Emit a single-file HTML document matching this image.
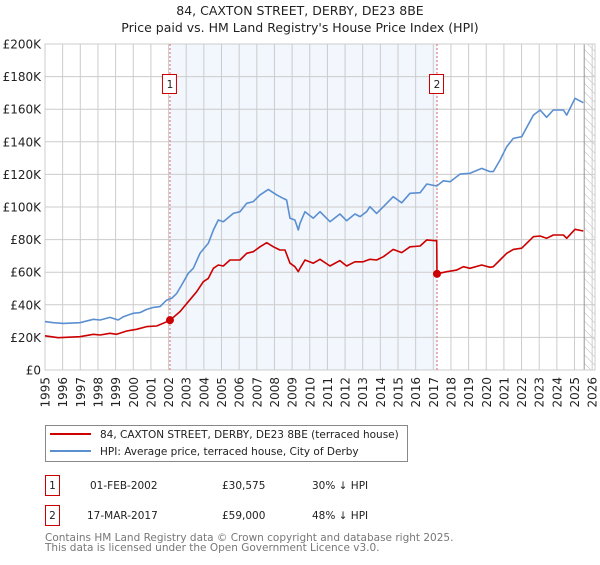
<!DOCTYPE html>
<html><head><meta charset="utf-8"><style>
body{margin:0;background:#fff;width:600px;height:560px;overflow:hidden;font-family:"Liberation Sans","DejaVu Sans",sans-serif}
svg text{font-family:"DejaVu Sans","Liberation Sans",sans-serif}
</style></head><body>
<svg id="c" width="600" height="560" xmlns="http://www.w3.org/2000/svg">
<defs><pattern id="hatch" width="6" height="6" patternUnits="userSpaceOnUse" patternTransform="rotate(-45)"><line x1="0" y1="0" x2="0" y2="6" stroke="#bbb" stroke-width="1"/></pattern></defs>
<text x="300" y="15" text-anchor="middle" font-size="12.5" fill="#222">84, CAXTON STREET, DERBY, DE23 8BE</text>
<text x="300" y="32" text-anchor="middle" font-size="12.5" fill="#222">Price paid vs. HM Land Registry's House Price Index (HPI)</text>
<g id="plot"></g>
<g>
<rect x="45.5" y="425.5" width="362" height="36" fill="#fff" stroke="#888"/>
<line x1="50" y1="434" x2="91" y2="434" stroke="#cc0000" stroke-width="2"/>
<text x="100" y="438" font-size="10.5" fill="#222">84, CAXTON STREET, DERBY, DE23 8BE (terraced house)</text>
<line x1="50" y1="451" x2="91" y2="451" stroke="#5b8fd0" stroke-width="2"/>
<text x="100" y="455" font-size="10.5" fill="#222">HPI: Average price, terraced house, City of Derby</text>
</g>
<g font-size="10.5" fill="#222">
<rect x="45.5" y="475.5" width="14" height="20" fill="#fff" stroke="#cc0000"/>
<text x="52.5" y="489" text-anchor="middle">1</text>
<text x="90" y="489">01-FEB-2002</text><text x="222" y="489">£30,575</text><text x="312" y="489">30% ↓ HPI</text>
<rect x="45.5" y="505.5" width="14" height="20" fill="#fff" stroke="#cc0000"/>
<text x="52.5" y="519" text-anchor="middle">2</text>
<text x="87" y="519">17-MAR-2017</text><text x="222" y="519">£59,000</text><text x="312" y="519">48% ↓ HPI</text>
</g>
<text x="45" y="541" font-size="10.5" fill="#777">Contains HM Land Registry data © Crown copyright and database right 2025.</text>
<text x="45" y="551" font-size="10.5" fill="#777">This data is licensed under the Open Government Licence v3.0.</text>
</svg>
<script>
const hpiYears=[1995.0,1995.47,1996.04,1996.98,1997.74,1998.12,1998.68,1999.15,1999.44,2000.0,2000.38,2000.76,2001.14,2001.52,2001.89,2002.18,2002.46,2002.74,2003.12,2003.4,2003.78,2004.25,2004.54,2004.82,2005.1,2005.67,2006.05,2006.43,2006.8,2007.18,2007.65,2008.13,2008.5,2008.69,2008.88,2009.16,2009.35,2009.45,2009.73,2010.2,2010.58,2011.15,2011.71,2012.09,2012.56,2012.85,2013.22,2013.41,2013.79,2014.17,2014.73,2015.21,2015.68,2016.25,2016.63,2017.19,2017.57,2017.95,2018.51,2019.08,2019.74,2020.21,2020.4,2020.78,2021.16,2021.53,2022.01,2022.67,2023.05,2023.42,2023.8,2024.37,2024.56,2025.03,2025.5];
const hpiValues=[29.7,29.0,28.6,29.0,31.1,30.7,32.3,30.7,32.7,34.8,35.2,37.2,38.4,38.9,42.9,44.0,47.0,52.1,59.3,62.4,71.6,77.7,85.9,92.0,91.0,96.1,97.1,102.3,103.3,107.4,110.8,107.4,105.3,104.3,93.1,92.0,85.9,90.0,97.1,93.1,97.1,91.0,95.7,91.6,95.7,94.1,97.1,100.2,96.1,100.2,106.3,102.6,108.4,108.8,114.1,112.9,116.1,115.5,120.2,120.7,123.7,121.7,121.7,128.8,137.0,142.1,143.1,156.4,159.5,155.0,159.5,159.5,156.4,166.7,164.0];
const priceYears=[1995.0,1995.75,1996.98,1997.74,1998.12,1998.68,1999.06,1999.63,2000.19,2000.76,2001.33,2001.89,2002.08,2002.65,2003.12,2003.59,2003.97,2004.25,2004.54,2004.82,2005.1,2005.48,2005.86,2006.05,2006.43,2006.8,2007.18,2007.56,2007.94,2008.31,2008.6,2008.88,2009.16,2009.35,2009.45,2009.73,2010.2,2010.58,2011.15,2011.71,2012.09,2012.56,2013.03,2013.41,2013.79,2014.17,2014.73,2015.21,2015.68,2016.25,2016.63,2017.1,2017.19,2017.21,2017.76,2018.32,2018.7,2019.08,2019.74,2020.21,2020.4,2020.78,2021.16,2021.53,2022.01,2022.67,2023.05,2023.42,2023.8,2024.37,2024.56,2025.03,2025.5];
const priceValues=[21.0,19.8,20.4,21.9,21.5,22.5,21.9,23.9,25.0,26.6,27.0,29.6,30.575,35.8,41.9,48.0,54.2,56.2,62.4,64.4,63.8,67.5,67.5,67.5,71.6,72.6,75.6,78.1,75.6,73.6,73.6,65.5,63.4,60.3,62.4,67.5,65.5,67.9,63.8,67.1,63.8,66.4,66.4,67.9,67.5,69.5,74.0,72.0,75.6,76.1,79.8,79.3,79.5,59.0,60.3,61.3,63.4,62.4,64.4,63.0,63.4,67.5,71.6,74.0,74.7,81.8,82.2,80.8,82.8,82.8,80.8,86.3,85.3];
const saleYears=[2002.08,2017.21];
const saleValues=[30.575,59.0];
const saleLabels=["1","2"];
const yTicks=[0,20,40,60,80,100,120,140,160,180,200];
const yTickLabels=["£0","£20K","£40K","£60K","£80K","£100K","£120K","£140K","£160K","£180K","£200K"];
const xTicks=[1995,1996,1997,1998,1999,2000,2001,2002,2003,2004,2005,2006,2007,2008,2009,2010,2011,2012,2013,2014,2015,2016,2017,2018,2019,2020,2021,2022,2023,2024,2025,2026];
const forecastStart=2025.55;

const L=45,R=595,T=44,B=370;
const xs=y=>L+(y-1995)*17.65;
const ys=v=>B-v*(B-T)/200;
const NS="http://www.w3.org/2000/svg";
const g=document.getElementById('plot');
function mk(tag,at){const e=document.createElementNS(NS,tag);for(const k in at)e.setAttribute(k,at[k]);g.appendChild(e);return e;}
let e;
e=mk('rect',{x:L,y:T,width:R-L,height:B-T,fill:'#fff'});


e=mk('rect',{x:xs(saleYears[0]),y:T,width:xs(saleYears[1])-xs(saleYears[0]),height:B-T,fill:'#f2f6fd'});


e=mk('rect',{x:xs(forecastStart),y:T,width:R-xs(forecastStart),height:B-T,fill:'url(#hatch)'});


yTicks.forEach((t,i)=>{
 e=mk('line',{x1:L,x2:R,y1:ys(t),y2:ys(t),stroke:'#ccc','stroke-width':1});
 
 
 e=mk('text',{x:L-4,y:ys(t)+4.5,'text-anchor':'end','font-size':12,fill:'#222'});
 e.textContent=yTickLabels[i];
 
 
});
xTicks.forEach(t=>{
 e=mk('line',{x1:xs(t),x2:xs(t),y1:T,y2:B,stroke:'#ccc','stroke-width':1});
 
 
 e=mk('text',{x:0,y:0,'text-anchor':'end','font-size':12,fill:'#222',transform:`translate(${xs(t)+4.5},377) rotate(-90)`});
 e.textContent=t;
 
 
});
e=mk('line',{x1:xs(forecastStart),x2:xs(forecastStart),y1:T,y2:B,stroke:'#999','stroke-width':1});


e=mk('rect',{x:L,y:T,width:R-L,height:B-T,fill:'none',stroke:'#ccc'});


saleYears.forEach((s,i)=>{
 e=mk('line',{x1:xs(s),x2:xs(s),y1:T,y2:B,stroke:'#e06666','stroke-width':1,'stroke-dasharray':'2,2'});
 
 
});
const pts=(X,Y)=>X.map((x,i)=>xs(x).toFixed(1)+','+ys(Y[i]).toFixed(1)).join(' ');
e=mk('polyline',{points:pts(hpiYears,hpiValues),fill:'none',stroke:'#5b8fd0','stroke-width':1.6,'stroke-linejoin':'round'});


e=mk('polyline',{points:pts(priceYears,priceValues),fill:'none',stroke:'#cc0000','stroke-width':1.6,'stroke-linejoin':'round'});


saleYears.forEach((s,i)=>{
 e=mk('circle',{cx:xs(s),cy:ys(saleValues[i]),r:4,fill:'#cc0000'});
 
 
 e=mk('rect',{x:xs(s)-7.5,y:74.5,width:14,height:19,fill:'#fff',stroke:'#cc0000'});
 
 
 e=mk('text',{x:xs(s),y:88,'text-anchor':'middle','font-size':10.5,fill:'#222'});
 e.textContent=saleLabels[i];
 
 
});
</script>
</body></html>
